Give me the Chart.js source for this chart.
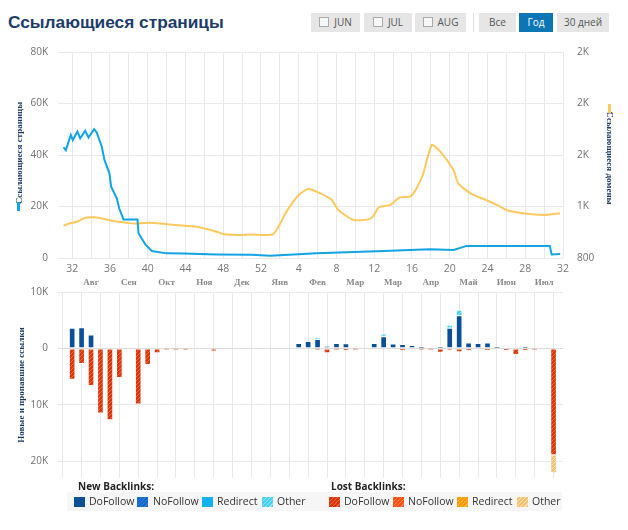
<!DOCTYPE html>
<html>
<head>
<meta charset="utf-8">
<script src="https://cdn.jsdelivr.net/npm/chart.js@4"></script>
<style>
  html, body { margin:0; padding:0; background:#fff; }
  #wrap { position:relative; width:628px; height:530px; overflow:hidden; font-family:"Open Sans", "DejaVu Sans", sans-serif; }
  #title { position:absolute; left:8px; top:12px; font:bold 17.3px "Liberation Sans", Arial, sans-serif; color:#1c3d6a; white-space:nowrap; }
  .btn { position:absolute; top:13px; height:19px; background:#e6e6e6; color:#555; font:10px "Open Sans", sans-serif; line-height:19px; text-align:center; box-sizing:border-box; }
  .btn .cb { display:inline-block; width:8px; height:8px; border:1px solid #aaa; background:#f7f7f7; vertical-align:-1px; margin-right:5px; }
  .btn.active { background:#0a76b5; color:#fff; }
  #sep { position:absolute; left:473px; top:13px; width:1px; height:19px; background:#ddd; }
  canvas { position:absolute; left:0; }
  .axt { position:absolute; white-space:nowrap; font:bold 9px "Liberation Serif", "Times New Roman", serif; color:#1b3a63; transform-origin:center center; }
  .mk { position:absolute; }
  .lg { position:absolute; white-space:nowrap; font:10.5px "Open Sans", sans-serif; color:#333; }
  .lgh { position:absolute; white-space:nowrap; font:bold 10px "Open Sans", sans-serif; color:#222; }
  .sw { position:absolute; width:11px; height:10px; }
  #band { position:absolute; left:67px; top:492px; width:495px; height:19px; background:#f6f6f6; }
</style>
</head>
<body>
<div id="wrap">
  <div id="title">Ссылающиеся страницы</div>
  <div class="btn" style="left:311px;width:49px;"><span class="cb"></span>JUN</div>
  <div class="btn" style="left:364px;width:48px;"><span class="cb"></span>JUL</div>
  <div class="btn" style="left:415px;width:51px;"><span class="cb"></span>AUG</div>
  <div id="sep"></div>
  <div class="btn" style="left:479px;width:37px;">Все</div>
  <div class="btn active" style="left:519px;width:34px;">Год</div>
  <div class="btn" style="left:557px;width:52px;">30 дней</div>

  <canvas id="c1" width="628" height="250" style="top:40px;"></canvas>
  <canvas id="c2" width="628" height="193" style="top:285px;"></canvas>

  <div class="axt" id="tl" style="left:18.5px;top:152.5px;transform:translate(-50%,-50%) rotate(-90deg);">Ссылающиеся страницы</div>
  <div class="mk" style="left:17px;top:202px;width:3px;height:9px;background:#12a4e4;"></div>
  <div class="axt" id="tr" style="left:609.5px;top:158px;transform:translate(-50%,-50%) rotate(90deg);">Ссылающиеся домены</div>
  <div class="mk" style="left:608px;top:104px;width:3px;height:9px;background:#ffc95e;"></div>
  <div class="axt" id="tb" style="left:21px;top:385px;transform:translate(-50%,-50%) rotate(-90deg);">Новые и пропавшие ссылки</div>

  <div id="band"></div>
  <div class="lgh" style="left:78px;top:479px;">New Backlinks:</div>
  <div class="lgh" style="left:331px;top:479px;">Lost Backlinks:</div>

  <div class="sw" style="left:74px;top:497px;background:#0b4f96;"></div>
  <div class="lg" style="left:89px;top:494px;">DoFollow</div>
  <div class="sw" style="left:137px;top:497px;background:repeating-linear-gradient(-45deg,#1568c9 0 2px,#2f80dc 2px 3px);"></div>
  <div class="lg" style="left:153px;top:494px;">NoFollow</div>
  <div class="sw" style="left:202px;top:497px;background:#12b2ee;"></div>
  <div class="lg" style="left:217px;top:494px;">Redirect</div>
  <div class="sw" style="left:262px;top:497px;background:repeating-linear-gradient(-45deg,#45cff0 0 2px,#9ae6f8 2px 3px);"></div>
  <div class="lg" style="left:277px;top:494px;">Other</div>

  <div class="sw" style="left:329px;top:497px;background:repeating-linear-gradient(-45deg,#d9360b 0 2px,#ea6a3e 2px 3px);"></div>
  <div class="lg" style="left:344px;top:494px;">DoFollow</div>
  <div class="sw" style="left:393px;top:497px;background:repeating-linear-gradient(-45deg,#ff5212 0 2px,#ff8050 2px 3px);"></div>
  <div class="lg" style="left:408px;top:494px;">NoFollow</div>
  <div class="sw" style="left:457px;top:497px;background:repeating-linear-gradient(-45deg,#ff9900 0 2px,#ffb84d 2px 3px);"></div>
  <div class="lg" style="left:472px;top:494px;">Redirect</div>
  <div class="sw" style="left:517px;top:497px;background:repeating-linear-gradient(-45deg,#f3c274 0 2px,#fbe2b5 2px 3px);"></div>
  <div class="lg" style="left:532px;top:494px;">Other</div>
</div>

<script>
// ---------- DATA ----------
// x positions are week indices: 0 = week 32, 20 = week 52, 24 = week 4 of next year, 52 = week 32 of next year
const weekTickLabels = ['32','36','40','44','48','52','4','8','12','16','20','24','28','32'];
const monthLabels = ['Авг','Сен','Окт','Ноя','Дек','Янв','Фев','Мар','Мар','Апр','Май','Июн','Июл'];
const leftTickLabels = ['0','20K','40K','60K','80K'];
const rightTickLabels = ['800','1K','2K','2K','2K'];
const barTickLabels = ['20K','10K','0','10K'];

// Referring pages (left axis)
const pagesX = [-0.92,-0.67,-0.14,0.07,0.56,0.85,1.38,1.73,2.33,2.61,3.14,3.42,3.95,4.13,4.73,4.98,5.44,6.92,7.03,7.73,8.44,10.0,11.8,15.3,19.0,21.0,25.9,33.0,37.9,40.4,41.8,50.6,50.8,51.7];
const pagesY = [43000,41900,47800,45800,49100,46500,49400,46800,50000,48700,43200,38100,32900,27700,23200,19300,15000,15000,9600,5400,2700,1800,1700,1400,1250,900,1800,2700,3400,3100,4700,4700,1400,1550];

// Referring domains (right axis)
const domainsX = [-0.92,-0.6,-0.2,0.5,1.38,2.44,3.3,4.2,5.8,6.5,8.26,11.1,13.2,15.3,16.0,17.4,18.9,21.3,22.7,24.0,25.0,26.3,27.5,28.2,29.8,31.4,31.9,32.5,33.7,34.7,35.8,36.5,37.2,38.1,39.0,40.4,40.9,42.2,43.6,45.0,46.0,47.8,49.9,51.7];
const domainsY = [1049,1060,1070,1082,1113,1116,1105,1090,1074,1068,1074,1056,1043,1004,986,979,983,986,1160,1289,1336,1302,1250,1173,1095,1100,1126,1194,1212,1271,1276,1341,1458,1678,1626,1483,1380,1302,1258,1212,1173,1147,1134,1147];

// New / lost backlinks per week (index 0..51)
const barWeeks = Array.from({length:52}, (_, i) => i);
const newDoFollow = [3600,3700,2400,0,0,0,0,0,0,0,0,0,0,0,0,0,0,0,0,0,0,0,0,0,900,1250,1600,400,900,850,0,0,900,2100,800,700,550,300,0,300,3600,5800,1000,900,1000,300,0,0,300,0,0,0];
const newNoFollow = new Array(52).fill(0);
const newRedirect = new Array(52).fill(0);
const newOther = [0,0,0,0,0,0,0,0,0,0,0,0,0,0,0,0,0,0,0,0,0,0,0,0,0,0,250,0,0,0,0,0,0,500,0,0,0,0,0,0,550,1000,0,0,0,0,0,0,0,0,0,0];
const lostDoFollow = [-5500,-2700,-6600,-11500,-12700,-5200,0,-9900,-2900,-800,-200,-200,-200,0,0,-500,0,0,0,0,0,0,0,0,0,0,-200,-800,-200,-350,-200,0,0,0,0,-350,0,-200,-200,-700,-300,-650,-350,0,-350,0,-350,-1100,-350,-200,0,-18900];
const lostNoFollow = new Array(52).fill(0);
const lostRedirect = new Array(52).fill(0);
const lostOther = [0,0,0,0,0,0,0,0,0,0,0,0,0,0,0,0,0,0,0,0,0,0,0,0,0,0,0,0,0,0,0,0,0,0,0,0,0,0,0,0,0,0,0,0,0,0,0,0,0,0,0,-3200];

// ---------- helpers ----------
const gridWeeks = Array.from({length:27}, (_, i) => i * 2);
function hatch(base, stripe) {
  const c = document.createElement('canvas'); c.width = 4; c.height = 4;
  const g = c.getContext('2d');
  g.fillStyle = base; g.fillRect(0, 0, 4, 4);
  g.strokeStyle = stripe; g.lineWidth = 1;
  g.beginPath();
  g.moveTo(0, 4); g.lineTo(4, 0);
  g.moveTo(-1, 1); g.lineTo(1, -1);
  g.moveTo(3, 5); g.lineTo(5, 3);
  g.stroke();
  return g.createPattern(c, 'repeat');
}
const pts = (xs, ys) => xs.map((x, i) => ({x, y: ys[i]}));
const barPts = (arr) => barWeeks.map((x, i) => ({x, y: arr[i] === 0 ? null : arr[i]}));
const gridColor = '#e9e9e9';
const tickFont = {family: '"Open Sans", sans-serif', size: 10};
const tickColor = '#707070';
const noPad = (a) => { a.paddingTop = 0; a.paddingBottom = 0; a.paddingLeft = 0; a.paddingRight = 0; };

Chart.defaults.font.family = '"Open Sans", sans-serif';

// ---------- top chart ----------
new Chart(document.getElementById('c1'), {
  type: 'line',
  data: { datasets: [
    { label: 'Ссылающиеся страницы', data: pts(pagesX, pagesY), yAxisID: 'y', borderColor: '#12a4e4', borderWidth: 2, pointRadius: 0, tension: 0, fill: false },
    { label: 'Ссылающиеся домены', data: pts(domainsX, domainsY), yAxisID: 'y1', borderColor: '#ffc95e', borderWidth: 2, pointRadius: 0, tension: 0.2, fill: false }
  ]},
  options: {
    responsive: false, animation: false,
    layout: { padding: { top: 12, left: 0, right: 0, bottom: 0 } },
    plugins: { legend: { display: false }, tooltip: { enabled: false } },
    scales: {
      x: {
        type: 'linear', min: -1.5, max: 52,
        afterBuildTicks: (a) => { a.ticks = gridWeeks.map(v => ({value: v})); },
        afterFit: (a) => { a.height = 32; noPad(a); },
        grid: { color: gridColor, drawTicks: false },
        border: { display: false },
        ticks: {
          autoSkip: false, maxRotation: 0, padding: 5,
          callback: (v) => v % 4 === 0 ? weekTickLabels[v / 4] : ['', monthLabels[(v - 2) / 4]],
          font: (c) => (c.tick && c.tick.value % 4 === 0) ? {family: '"Open Sans", sans-serif', size: 10.5, lineHeight: 1.2} : {family: '"Liberation Serif", serif', size: 9, weight: 'bold', lineHeight: 1.45},
          color: (c) => (c.tick && c.tick.value % 4 === 0) ? '#777' : '#8a8a8a'
        }
      },
      y: {
        position: 'left', min: 0, max: 80000,
        afterBuildTicks: (a) => { a.ticks = [0, 20000, 40000, 60000, 80000].map(v => ({value: v})); },
        afterFit: (a) => { a.width = 58; noPad(a); },
        grid: { color: gridColor, drawTicks: false },
        border: { display: false },
        ticks: { padding: 10, font: tickFont, color: tickColor, callback: (v, i) => leftTickLabels[i] }
      },
      y1: {
        position: 'right', min: 800, max: 2400,
        afterBuildTicks: (a) => { a.ticks = [800, 1200, 1600, 2000, 2400].map(v => ({value: v})); },
        afterFit: (a) => { a.width = 65; noPad(a); },
        grid: { display: false, drawTicks: false },
        border: { display: false },
        ticks: { padding: 14, font: tickFont, color: tickColor, callback: (v, i) => rightTickLabels[i] }
      }
    }
  }
});

// ---------- bottom chart ----------
const barBase = { type: 'bar', barThickness: 6, borderWidth: 1, borderColor: 'rgba(255,255,255,0.45)', borderSkipped: false, stack: 's' };
new Chart(document.getElementById('c2'), {
  type: 'bar',
  data: { datasets: [
    Object.assign({}, barBase, { label: 'New DoFollow', data: barPts(newDoFollow), backgroundColor: '#0b4f96' }),
    Object.assign({}, barBase, { label: 'New NoFollow', data: barPts(newNoFollow), backgroundColor: hatch('#1568c9', '#2f80dc') }),
    Object.assign({}, barBase, { label: 'New Redirect', data: barPts(newRedirect), backgroundColor: '#12b2ee' }),
    Object.assign({}, barBase, { label: 'New Other', data: barPts(newOther), backgroundColor: hatch('#45cff0', '#9ae6f8') }),
    Object.assign({}, barBase, { label: 'Lost DoFollow', data: barPts(lostDoFollow), backgroundColor: hatch('#d9360b', '#ec6b3f') }),
    Object.assign({}, barBase, { label: 'Lost NoFollow', data: barPts(lostNoFollow), backgroundColor: hatch('#ff5212', '#ff8050') }),
    Object.assign({}, barBase, { label: 'Lost Redirect', data: barPts(lostRedirect), backgroundColor: hatch('#ff9900', '#ffb84d') }),
    Object.assign({}, barBase, { label: 'Lost Other', data: barPts(lostOther), backgroundColor: hatch('#f3c274', '#fbe2b5') })
  ]},
  options: {
    responsive: false, animation: false,
    layout: { padding: { top: 7, left: 0, right: 65, bottom: 0 } },
    plugins: { legend: { display: false }, tooltip: { enabled: false } },
    scales: {
      x: {
        type: 'linear', min: -1.5, max: 52, stacked: true, offset: false,
        afterBuildTicks: (a) => { a.ticks = gridWeeks.map(v => ({value: v})); },
        afterFit: (a) => { a.height = 0; noPad(a); },
        grid: { color: gridColor, drawTicks: false },
        border: { display: false },
        ticks: { display: false }
      },
      y: {
        stacked: true, min: -23000, max: 10000,
        afterBuildTicks: (a) => { a.ticks = [-20000, -10000, 0, 10000].map(v => ({value: v})); },
        afterFit: (a) => { a.width = 58; noPad(a); },
        grid: { color: (c) => c.tick && c.tick.value === 0 ? '#dcdcdc' : gridColor, drawTicks: false },
        border: { display: false },
        ticks: { padding: 10, font: tickFont, color: tickColor, callback: (v, i) => barTickLabels[i] }
      }
    }
  }
});
</script>
</body>
</html>
